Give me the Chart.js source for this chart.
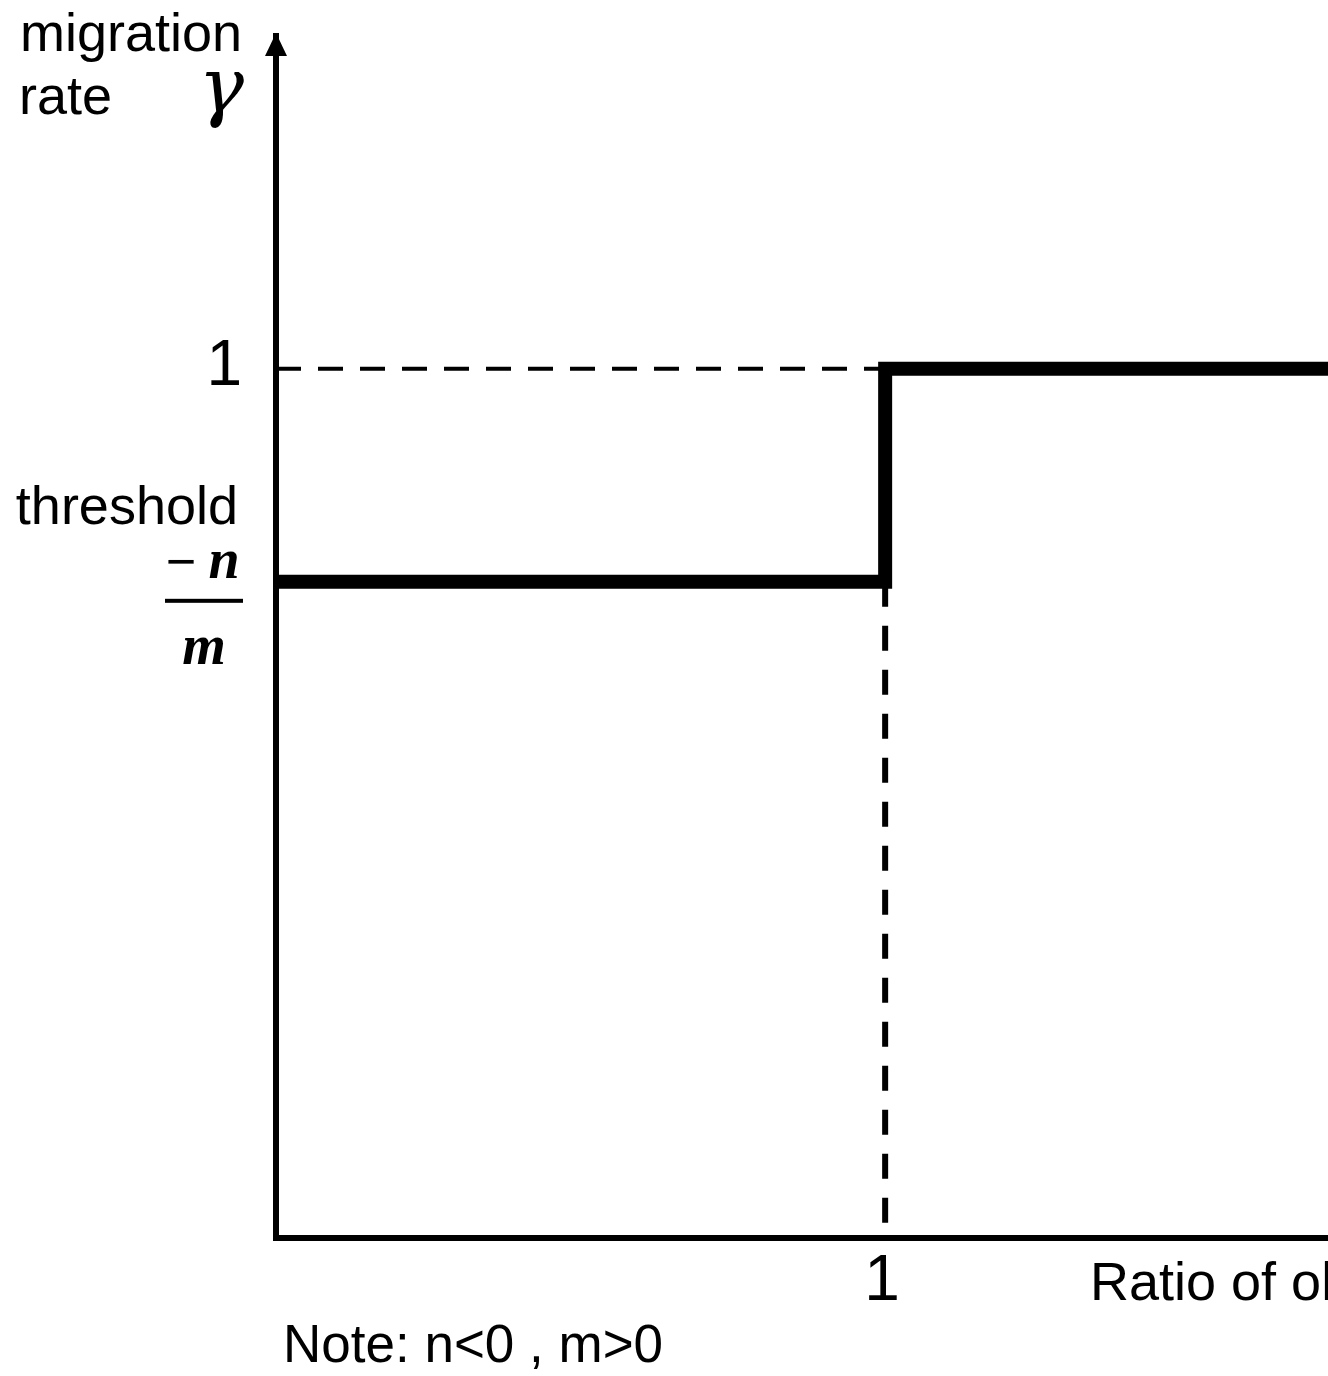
<!DOCTYPE html>
<html><head><meta charset="utf-8">
<script src="https://cdn.jsdelivr.net/npm/chart.js@4/dist/chart.umd.min.js"></script>
<style>html,body{margin:0;padding:0;background:#fff;overflow:hidden}canvas{display:block}</style>
</head><body>
<canvas id="c" width="1328" height="1376"></canvas>
<script>
// ---- data ----
const stepX = [0, 1, 1, 1.727];
const stepY = [0.755, 0.755, 1, 1];
const upperDashX = [0, 1];
const upperDashY = [1, 1];
const vertDashX = [1, 1];
const vertDashY = [0.755, 0];
const thresholdValue = 0.755;
const yTickValues = [1];
const yTickLabels = ['1'];
const xTickValues = [1];
const xTickLabels = ['1'];
const yTitleLines = ['migration', 'rate'];
const yTitleSymbol = 'γ';
const thresholdLabel = 'threshold';
const thresholdNumerator = ['−', 'n'];
const thresholdDenominator = 'm';
const xTitle = 'Ratio of ol';
const noteText = 'Note: n<0 , m>0';
const xRange = [0, 1.727];
const yRange = [0, 1.383];

const pts = (xs, ys) => xs.map((v, i) => ({x: v, y: ys[i]}));
const SANS = '"Liberation Sans", Arial, sans-serif';
const SERIF = '"Liberation Serif", "Times New Roman", serif';

const annot = {
  id: 'annot',
  afterDraw(chart) {
    const {ctx, chartArea: a, scales: {x, y}} = chart;
    ctx.save();
    ctx.fillStyle = '#000';
    // arrow head on y axis
    ctx.beginPath();
    ctx.moveTo(a.left, a.top - 3);
    ctx.lineTo(a.left - 11, a.top + 20);
    ctx.lineTo(a.left + 11, a.top + 20);
    ctx.closePath();
    ctx.fill();

    ctx.textBaseline = 'alphabetic';
    // y title
    ctx.font = `54px ${SANS}`;
    ctx.textAlign = 'left';
    ctx.fillText(yTitleLines[0], 20, a.top + 15);
    ctx.fillText(yTitleLines[1], 19, a.top + 78);
    ctx.font = `italic 76px "DejaVu Serif", ${SERIF}`;
    ctx.textAlign = 'right';
    ctx.fillText(yTitleSymbol, 244, a.top + 76);

    // y tick labels
    ctx.font = `64px ${SANS}`;
    ctx.textAlign = 'right';
    yTickValues.forEach((v, i) => {
      ctx.fillText(yTickLabels[i], 242, y.getPixelForValue(v) + 16);
    });

    // threshold label
    const pt = y.getPixelForValue(thresholdValue);
    ctx.font = `54px ${SANS}`;
    ctx.textAlign = 'right';
    ctx.fillText(thresholdLabel, 238, pt - 58);
    ctx.font = `52px ${SANS}`;
    ctx.textAlign = 'center';
    ctx.fillText(thresholdNumerator[0], 181, pt - 3);
    ctx.font = `bold italic 56px ${SERIF}`;
    ctx.fillText(thresholdNumerator[1], 224, pt - 4);
    ctx.fillRect(165, pt + 17, 78, 4);
    ctx.fillText(thresholdDenominator, 204, pt + 82);

    // x tick labels
    ctx.font = `64px ${SANS}`;
    ctx.textAlign = 'center';
    xTickValues.forEach((v, i) => {
      ctx.fillText(xTickLabels[i], x.getPixelForValue(v) - 3, a.bottom + 62);
    });
    // x title
    ctx.font = `54px ${SANS}`;
    ctx.textAlign = 'left';
    ctx.fillText(xTitle, 1090, a.bottom + 62);
    // note
    ctx.font = `53px ${SANS}`;
    ctx.fillText(noteText, 283, a.bottom + 124);
    ctx.restore();
  }
};

new Chart(document.getElementById('c'), {
  type: 'scatter',
  data: {
    datasets: [
      {data: pts(upperDashX, upperDashY), showLine: true, borderColor: '#000', borderWidth: 4,
       borderDash: [25, 17], pointRadius: 0, borderCapStyle: 'butt'},
      {data: pts(vertDashX, vertDashY), showLine: true, borderColor: '#000', borderWidth: 6,
       borderDash: [25, 19], pointRadius: 0, borderCapStyle: 'butt'},
      {data: pts(stepX, stepY), showLine: true, borderColor: '#000', borderWidth: 14,
       pointRadius: 0, borderJoinStyle: 'miter', borderCapStyle: 'butt', tension: 0}
    ]
  },
  options: {
    responsive: false,
    animation: false,
    devicePixelRatio: 1,
    layout: {padding: {left: 276, right: 0, top: 36, bottom: 138}},
    plugins: {legend: {display: false}, tooltip: {enabled: false}},
    scales: {
      x: {type: 'linear', min: xRange[0], max: xRange[1],
          grid: {display: false, drawTicks: false, tickLength: 0}, ticks: {display: false, padding: 0},
          border: {display: true, color: '#000', width: 6}},
      y: {type: 'linear', min: yRange[0], max: yRange[1],
          grid: {display: false, drawTicks: false, tickLength: 0}, ticks: {display: false, padding: 0},
          border: {display: true, color: '#000', width: 6}}
    }
  },
  plugins: [annot]
});
</script>
</body></html>
